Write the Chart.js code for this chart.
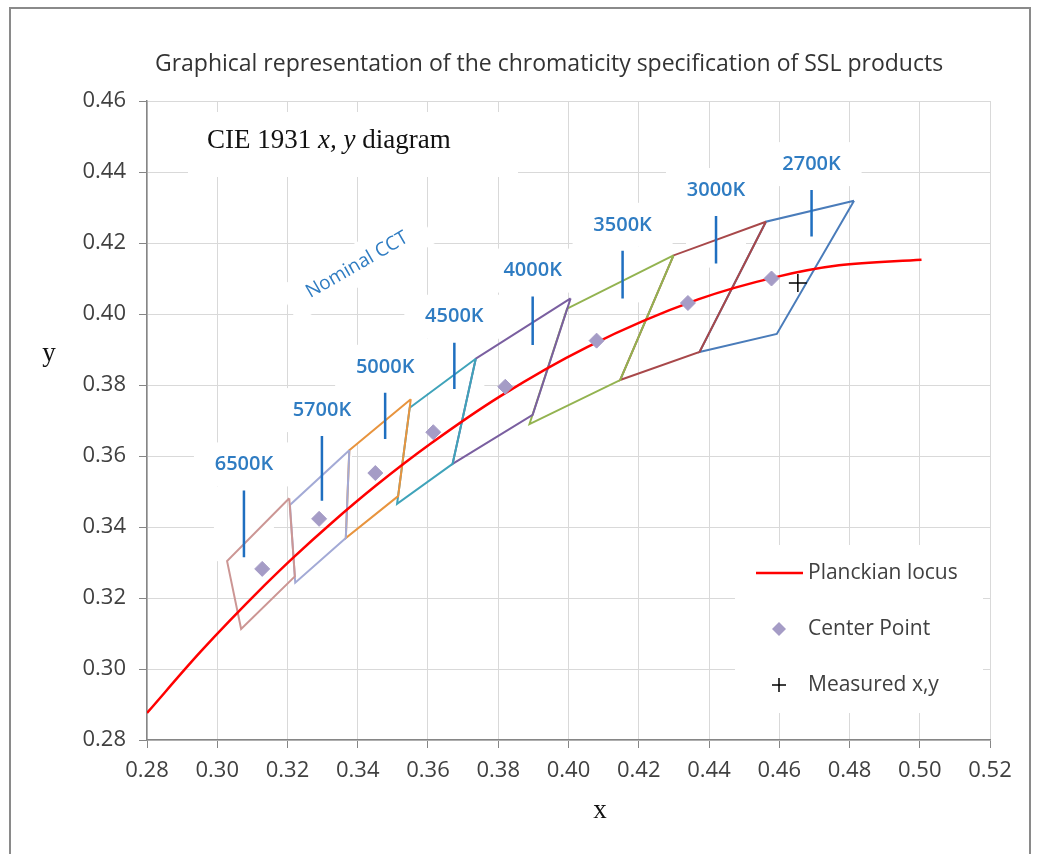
<!DOCTYPE html>
<html>
<head>
<meta charset="utf-8">
<script src="https://cdn.jsdelivr.net/npm/chart.js@4.4.1/dist/chart.umd.min.js"></script>
<style>
  html, body { margin: 0; padding: 0; background: #fff; }
  canvas { display: block; }
</style>
</head>
<body>
<canvas id="chart" width="1037" height="854"></canvas>
<script>
// ---- data ----
const cctNames = ['6500K', '5700K', '5000K', '4500K', '4000K', '3500K', '3000K', '2700K'];

// quadrangle corners (x, y), closed
const quad6500 = [[0.3205, 0.3481], [0.3028, 0.3304], [0.3068, 0.3113], [0.3221, 0.3261], [0.3205, 0.3481]];
const quad5700 = [[0.3376, 0.3616], [0.3207, 0.3462], [0.3222, 0.3243], [0.3366, 0.3369], [0.3376, 0.3616]];
const quad5000 = [[0.3551, 0.3760], [0.3376, 0.3616], [0.3366, 0.3369], [0.3515, 0.3487], [0.3551, 0.3760]];
const quad4500 = [[0.3736, 0.3874], [0.3548, 0.3736], [0.3512, 0.3465], [0.3670, 0.3578], [0.3736, 0.3874]];
const quad4000 = [[0.4006, 0.4044], [0.3736, 0.3874], [0.3670, 0.3578], [0.3898, 0.3716], [0.4006, 0.4044]];
const quad3500 = [[0.4299, 0.4165], [0.3996, 0.4015], [0.3889, 0.3690], [0.4147, 0.3814], [0.4299, 0.4165]];
const quad3000 = [[0.4562, 0.4260], [0.4299, 0.4165], [0.4147, 0.3814], [0.4373, 0.3893], [0.4562, 0.4260]];
const quad2700 = [[0.4813, 0.4319], [0.4562, 0.4260], [0.4373, 0.3893], [0.4593, 0.3944], [0.4813, 0.4319]];
const quads = [quad6500, quad5700, quad5000, quad4500, quad4000, quad3500, quad3000, quad2700];
const quadColors = ['#cc9694', '#a3aad6', '#e8943e', '#3fa3ba', '#7a5fa0', '#93b350', '#a8484a', '#4a7cba'];

// center points
const centerX = [0.3128, 0.3290, 0.3450, 0.3615, 0.3820, 0.4080, 0.4340, 0.4578];
const centerY = [0.3282, 0.3423, 0.3552, 0.3667, 0.3795, 0.3925, 0.4031, 0.4100];

// nominal CCT marker lines
const tickX = [0.3076, 0.3298, 0.3478, 0.3675, 0.3898, 0.4154, 0.4420, 0.4692];
const tickTop = [0.3503, 0.3656, 0.3778, 0.3919, 0.4049, 0.4178, 0.4276, 0.4349];
const tickBottom = [0.3315, 0.3474, 0.3648, 0.3789, 0.3913, 0.4044, 0.4142, 0.4218];

// Planckian locus
const locusX = [0.2800, 0.2952, 0.3135, 0.3221, 0.3324, 0.3451, 0.3608, 0.3805, 0.4053, 0.4369, 0.4599, 0.4770, 0.5005];
const locusY = [0.2876, 0.3048, 0.3236, 0.3318, 0.3410, 0.3516, 0.3635, 0.3768, 0.3907, 0.4041, 0.4106, 0.4137, 0.4153];

// measured point
const measuredX = [0.4653];
const measuredY = [0.4087];

const CENTER_COLOR = '#a59cc6';
const LABEL_BLUE = '#2f7cc2';
const TICK_BLUE = '#1f6fc0';
const TEXT = '#404040';
const SANS = '"Open Sans", "Noto Sans", sans-serif';
const SERIF = '"Liberation Serif", "DejaVu Serif", serif';

const toPts = (xs, ys) => xs.map((x, i) => ({ x: x, y: ys[i] }));

const datasets = [];
datasets.push({
    label: 'Measured x,y',
    data: toPts(measuredX, measuredY),
    pointStyle: 'cross', pointRadius: 9, borderColor: '#000', borderWidth: 1.5,
    order: 0
});
datasets.push({
    label: 'Center Point',
    data: toPts(centerX, centerY),
    pointStyle: 'rectRot', pointRadius: 7.5,
    backgroundColor: CENTER_COLOR, borderColor: CENTER_COLOR, borderWidth: 1,
    order: 1
});
datasets.push({
    label: 'Planckian locus',
    data: toPts(locusX, locusY),
    showLine: true, borderColor: '#ff0000', borderWidth: 2.5,
    pointRadius: 0, cubicInterpolationMode: 'monotone',
    order: 2
});
tickX.forEach((x, i) => {
    datasets.push({
        label: cctNames[i] + ' mark',
        data: [{ x: x, y: tickTop[i] }, { x: x, y: tickBottom[i] }],
        showLine: true, borderColor: TICK_BLUE, borderWidth: 2.5, pointRadius: 0,
        order: 3
    });
});
quads.forEach((q, i) => {
    datasets.push({
        label: cctNames[i],
        data: q.map(p => ({ x: p[0], y: p[1] })),
        showLine: true, borderColor: quadColors[i], borderWidth: 2,
        pointRadius: 0, tension: 0,
        order: 4 + i
    });
});

// white boxes, texts and the legend
const overlay = {
    id: 'overlay',
    beforeDatasetsDraw(chart) {
        const ctx = chart.ctx, xs = chart.scales.x, ys = chart.scales.y;
        ctx.save();
        ctx.fillStyle = '#fff';
        ctx.fillRect(188, 112, 330, 65);           // CIE text box
        ctx.fillRect(735, 545, 248, 168);          // legend box
        tickX.forEach((x, i) => {
            const px = xs.getPixelForValue(x);
            const top = ys.getPixelForValue(tickTop[i]);
            const bot = ys.getPixelForValue(tickBottom[i]);
            ctx.fillRect(px - 50, top - 48, 100, 44);   // label box
            ctx.fillRect(px - 30, top - 4, 60, bot - top + 8);
        });
        // rotated box for "Nominal CCT"
        ctx.translate(357, 265);
        ctx.rotate(-30 * Math.PI / 180);
        ctx.fillRect(-80, -20, 160, 40);
        ctx.restore();
    },
    afterDatasetsDraw(chart) {
        const ctx = chart.ctx, xs = chart.scales.x, ys = chart.scales.y;
        ctx.save();

        // title
        ctx.fillStyle = '#333';
        ctx.font = '23px ' + SANS;
        ctx.textAlign = 'center';
        ctx.textBaseline = 'middle';
        ctx.fillText('Graphical representation of the chromaticity specification of SSL products', 549, 64);

        // CCT labels
        ctx.fillStyle = LABEL_BLUE;
        ctx.font = '600 20px ' + SANS;
        tickX.forEach((x, i) => {
            ctx.fillText(cctNames[i], xs.getPixelForValue(x), ys.getPixelForValue(tickTop[i]) - 26);
        });

        // Nominal CCT
        ctx.save();
        ctx.translate(357, 265);
        ctx.rotate(-30 * Math.PI / 180);
        ctx.font = '19px ' + SANS;
        ctx.fillText('Nominal CCT', 0, 0);
        ctx.restore();

        // CIE 1931 x, y diagram
        ctx.fillStyle = '#111';
        ctx.textAlign = 'left';
        ctx.textBaseline = 'alphabetic';
        let cx = 207;
        const parts = [['CIE 1931 ', ''], ['x, y', 'italic '], [' diagram', '']];
        parts.forEach(p => {
            ctx.font = p[1] + '27px ' + SERIF;
            ctx.fillText(p[0], cx, 148);
            cx += ctx.measureText(p[0]).width;
        });

        // axis titles
        ctx.textAlign = 'center';
        ctx.textBaseline = 'middle';
        ctx.font = '27px ' + SERIF;
        ctx.fillText('y', 49, 354);
        ctx.fillText('x', 600, 811);

        // legend
        ctx.font = '21px ' + SANS;
        ctx.fillStyle = TEXT;
        ctx.textAlign = 'left';
        ctx.fillText('Planckian locus', 808, 573);
        ctx.fillText('Center Point', 808, 629);
        ctx.fillText('Measured x,y', 808, 685);
        ctx.strokeStyle = '#ff0000';
        ctx.lineWidth = 2.5;
        ctx.beginPath();
        ctx.moveTo(756, 573);
        ctx.lineTo(803, 573);
        ctx.stroke();
        ctx.fillStyle = CENTER_COLOR;
        ctx.beginPath();
        ctx.moveTo(779, 622); ctx.lineTo(786, 629); ctx.lineTo(779, 636); ctx.lineTo(772, 629);
        ctx.closePath();
        ctx.fill();
        ctx.strokeStyle = '#000';
        ctx.lineWidth = 1.5;
        ctx.beginPath();
        ctx.moveTo(772, 685); ctx.lineTo(786, 685);
        ctx.moveTo(779, 678); ctx.lineTo(779, 692);
        ctx.stroke();

        // outer frame
        ctx.strokeStyle = '#8a8a8a';
        ctx.lineWidth = 2;
        ctx.strokeRect(10, 8, 1020, 900);
        ctx.restore();
    }
};

const ctx = document.getElementById('chart').getContext('2d');
window.myChart = new Chart(ctx, {
    type: 'scatter',
    data: { datasets: datasets },
    options: {
        responsive: false,
        devicePixelRatio: 1,
        animation: false,
        layout: { padding: { left: 10, right: 47, top: 101, bottom: 0 } },
        plugins: {
            legend: { display: false },
            title: { display: false },
            tooltip: { enabled: false }
        },
        scales: {
            x: {
                type: 'linear',
                min: 0.28, max: 0.52,
                ticks: {
                    stepSize: 0.02,
                    color: TEXT,
                    font: { family: SANS, size: 22 },
                    padding: 10,
                    callback: v => v.toFixed(2)
                },
                grid: { color: '#d9d9d9', tickColor: '#868686', tickLength: 8 },
                border: { color: '#868686', width: 1.5 },
                afterFit: scale => { scale.height = 114; }
            },
            y: {
                type: 'linear',
                min: 0.28, max: 0.46,
                ticks: {
                    stepSize: 0.02,
                    color: TEXT,
                    font: { family: SANS, size: 22 },
                    padding: 13,
                    callback: v => v.toFixed(2)
                },
                grid: { color: '#d9d9d9', tickColor: '#868686', tickLength: 8 },
                border: { color: '#868686', width: 1.5 },
                afterFit: scale => { scale.width = 137; }
            }
        }
    },
    plugins: [overlay]
});
</script>
</body>
</html>
